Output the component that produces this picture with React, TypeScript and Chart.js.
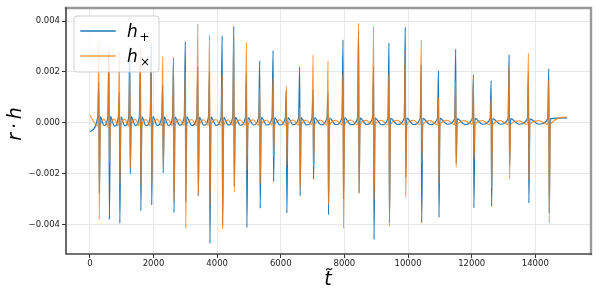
import React, { useEffect, useRef } from "react";
import { Chart, registerables } from "chart.js";

Chart.register(...registerables);

// burst (periastron) times
const burstT = [289, 606, 935, 1262, 1595, 1937, 2298, 2637, 3007, 3400, 3767, 4165, 4530, 4928, 5346, 5766, 6184, 6601, 7022, 7493, 7964, 8453, 8924, 9408, 9920, 10422, 10965, 11505, 12063, 12619, 13184, 13790, 14430];

// h_plus spike extremes
const plusHi = [0.0016, 0.0028, 0.0012, 0.003, 0.0026, 0.0031, 0.0015, 0.00255, 0.0032, 0.0022, 0.002, 0.00342, 0.00379, 0.00196, 0.00244, 0.00285, 0.0013, 0.00221, 0.0013, 0.00118, 0.00326, 0.0036, 0.0022, 0.00314, 0.00376, 0.00229, 0.00205, 0.0029, 0.0019, 0.00166, 0.00268, 0.00196, 0.00213];
const plusLo = [-0.00275, -0.00378, -0.00394, -0.002, -0.00345, -0.00322, -0.00196, -0.00352, -0.00309, -0.00286, -0.00472, -0.004, -0.0025, -0.0041, -0.00335, -0.0023, -0.00354, -0.00286, -0.00221, -0.0036, -0.003, -0.00275, -0.00458, -0.0039, -0.00213, -0.00392, -0.0037, -0.0016, -0.00333, -0.00327, -0.00163, -0.00314, -0.00355];

// h_cross spike extremes
const crossHi = [0.0032, 0.003, 0.0028, 0.002, 0.003, 0.0022, 0.0026, 0.0025, 0.002, 0.0039, 0.00345, 0.00183, 0.0034, 0.00316, 0.00137, 0.00176, 0.00145, 0.0006, 0.00267, 0.00244, 0.0019, 0.00391, 0.00379, 0.0019, 0.00288, 0.00327, 0.001, 0.00165, 0.00185, 0.0009, 0.00222, 0.00274, 0.0017];
const crossLo = [-0.00378, -0.00157, -0.0024, -0.00177, -0.00243, -0.0024, -0.00177, -0.00307, -0.00413, -0.00286, -0.00322, -0.00416, -0.00272, -0.00184, -0.00235, -0.00132, -0.00165, -0.00256, -0.00171, -0.00321, -0.00413, -0.00275, -0.00301, -0.00406, -0.0029, -0.00157, -0.00236, -0.00173, -0.00144, -0.00255, -0.0022, -0.00222, -0.00392];

// slow background near bursts and in the middle of each gap
const plusNear = [0.00025, 0.00026, 0.00024, 0.00025, 0.00024, 0.00025, 0.00024, 0.00023, 0.00024, 0.00022, 0.00023, 0.00022, 0.00022, 0.00021, 0.00022, 0.0002, 0.00021, 0.0002, 0.0002, 0.00019, 0.0002, 0.00019, 0.00019, 0.00018, 0.00019, 0.00018, 0.00018, 0.00017, 0.00018, 0.00017, 0.00017, 0.00016, 0.00016];
const plusMid = [-0.0001, -0.00012, -0.00011, -0.0001, -0.00011, -0.0001, -0.0001, -0.00009, -0.0001, -0.00009, -0.00009, -0.00008, -0.00009, -0.00008, -0.00008, -0.00008, -0.00007, -0.00008, -0.00007, -0.00007, -0.00007, -0.00006, -0.00007, -0.00006, -0.00006, -0.00006, -0.00005, -0.00006, -0.00005, -0.00005, -0.00005, -0.00005];
const crossNear = [-0.00012, -0.00013, -0.00012, -0.00012, -0.00011, -0.00012, -0.00011, -0.00011, -0.0001, -0.00011, -0.0001, -0.0001, -0.0001, -0.00009, -0.0001, -0.00009, -0.00009, -0.00009, -0.00008, -0.00009, -0.00008, -0.00008, -0.00008, -0.00007, -0.00008, -0.00007, -0.00007, -0.00007, -0.00006, -0.00007, -0.00006, -0.00006, -0.00006];
const crossMid = [0.00014, 0.00015, 0.00014, 0.00014, 0.00013, 0.00014, 0.00013, 0.00013, 0.00013, 0.00012, 0.00013, 0.00012, 0.00012, 0.00012, 0.00011, 0.00012, 0.00011, 0.00011, 0.00011, 0.0001, 0.00011, 0.0001, 0.0001, 0.0001, 0.0001, 0.00009, 0.0001, 0.00009, 0.00009, 0.00009, 0.00008, 0.00009];

const plusStart = -0.00034;
const plusEnd = 0.0002;
const crossStart = 0.0003;
const crossEnd = 0.00023;
const tEnd = 15000;

const xTicks = [0, 2000, 4000, 6000, 8000, 10000, 12000, 14000];
const yTicks = [-0.004, -0.002, 0, 0.002, 0.004];

const BLUE = "#1f77b4";
const ORANGE = "rgba(255,127,14,0.78)";

function buildSeries(hi: number[], lo: number[], near: number[], mid: number[], start: number, end: number) {
  const pts: { x: number; y: number }[] = [{ x: 0, y: start }];
  burstT.forEach((t, i) => {
    if (i > 0) pts.push({ x: (burstT[i - 1] + t) / 2, y: mid[i - 1] });
    pts.push({ x: t - 40, y: near[i] });
    pts.push({ x: t - 7, y: hi[i] });
    pts.push({ x: t + 7, y: lo[i] });
    pts.push({ x: t + 40, y: near[i] });
  });
  pts.push({ x: tEnd, y: end });
  return pts;
}

const overlay = {
  id: "overlay",
  afterDraw(chart: any) {
    const ctx = chart.ctx as CanvasRenderingContext2D;
    const a = chart.chartArea;
    ctx.save();
    // frame
    ctx.lineCap = "square";
    ctx.strokeStyle = "#999";
    ctx.lineWidth = 2.4;
    ctx.beginPath();
    ctx.moveTo(a.left, a.top);
    ctx.lineTo(a.right, a.top);
    ctx.lineTo(a.right, a.bottom);
    ctx.stroke();
    ctx.strokeStyle = "#444";
    ctx.lineWidth = 1.6;
    ctx.beginPath();
    ctx.moveTo(a.left, a.top);
    ctx.lineTo(a.left, a.bottom);
    ctx.lineTo(a.right, a.bottom);
    ctx.stroke();

    // legend
    const lx = 74, ly = 16, lw = 85, lh = 56, r = 3;
    ctx.beginPath();
    ctx.moveTo(lx + r, ly);
    ctx.lineTo(lx + lw - r, ly);
    ctx.quadraticCurveTo(lx + lw, ly, lx + lw, ly + r);
    ctx.lineTo(lx + lw, ly + lh - r);
    ctx.quadraticCurveTo(lx + lw, ly + lh, lx + lw - r, ly + lh);
    ctx.lineTo(lx + r, ly + lh);
    ctx.quadraticCurveTo(lx, ly + lh, lx, ly + lh - r);
    ctx.lineTo(lx, ly + r);
    ctx.quadraticCurveTo(lx, ly, lx + r, ly);
    ctx.closePath();
    ctx.fillStyle = "rgba(255,255,255,0.8)";
    ctx.fill();
    ctx.strokeStyle = "rgba(204,204,204,0.9)";
    ctx.lineWidth = 1;
    ctx.stroke();

    ctx.lineWidth = 1.4;
    ctx.strokeStyle = BLUE;
    ctx.beginPath();
    ctx.moveTo(81, 31);
    ctx.lineTo(115, 31);
    ctx.stroke();
    ctx.strokeStyle = ORANGE;
    ctx.beginPath();
    ctx.moveTo(81, 56);
    ctx.lineTo(115, 56);
    ctx.stroke();

    ctx.fillStyle = "#000";
    ctx.textAlign = "left";
    ctx.textBaseline = "alphabetic";
    ctx.font = "italic 17px 'DejaVu Sans'";
    ctx.fillText("h", 127, 37);
    ctx.fillText("h", 127, 62);
    ctx.font = "12px 'DejaVu Sans'";
    ctx.fillText("+", 139.5, 40.5);
    ctx.fillText("×", 140, 65.5);

    // axis titles
    ctx.font = "italic 19px 'DejaVu Sans'";
    ctx.textAlign = "center";
    ctx.fillText("t\u0303", 328, 285);
    ctx.translate(21, 124);
    ctx.rotate(-Math.PI / 2);
    ctx.fillText("r\u2009\u00b7\u2009h", 0, 0);
    ctx.restore();
  },
};

export default function App() {
  const ref = useRef<HTMLCanvasElement | null>(null);
  useEffect(() => {
    if (!ref.current) return;
    const tickFont = { family: "'DejaVu Sans'", size: 8.5 };
    const chart = new Chart(ref.current, {
      type: "line",
      data: {
        datasets: [
          {
            label: "h+",
            data: buildSeries(plusHi, plusLo, plusNear, plusMid, plusStart, plusEnd),
            borderColor: BLUE,
            borderWidth: 1.2,
            pointRadius: 0,
            cubicInterpolationMode: "monotone",
            order: 2,
          },
          {
            label: "hx",
            data: buildSeries(crossHi, crossLo, crossNear, crossMid, crossStart, crossEnd),
            borderColor: ORANGE,
            borderWidth: 1.2,
            pointRadius: 0,
            cubicInterpolationMode: "monotone",
            order: 1,
          },
        ],
      },
      options: {
        animation: false,
        responsive: false,
        maintainAspectRatio: false,
        parsing: false as any,
        normalized: true,
        layout: { padding: { top: 8, right: 9, left: 0, bottom: 0 } },
        plugins: { legend: { display: false }, tooltip: { enabled: false } },
        scales: {
          x: {
            type: "linear",
            min: -750,
            max: 15750,
            afterBuildTicks: (s: any) => {
              s.ticks = xTicks.map((v) => ({ value: v }));
            },
            afterFit: (s: any) => {
              s.height = 46;
            },
            ticks: {
              font: tickFont,
              color: "#222",
              padding: 1,
              maxRotation: 0,
              autoSkip: false,
              callback: (v: any) => String(v),
            },
            grid: { color: "#e8e8e8", lineWidth: 1, tickColor: "#333", tickLength: 4 },
            border: { display: false },
          },
          y: {
            type: "linear",
            min: -0.00514,
            max: 0.00451,
            afterBuildTicks: (s: any) => {
              s.ticks = yTicks.map((v) => ({ value: v }));
            },
            afterFit: (s: any) => {
              s.width = 66;
            },
            ticks: {
              font: tickFont,
              color: "#222",
              padding: 2,
              autoSkip: false,
              callback: (v: any) => {
                const n = Number(v);
                return (n < -1e-12 ? "\u2212" : "") + Math.abs(n).toFixed(3);
              },
            },
            grid: { color: "#e8e8e8", lineWidth: 1, tickColor: "#333", tickLength: 4 },
            border: { display: false },
          },
        },
      },
      plugins: [overlay],
    });
    return () => chart.destroy();
  }, []);
  return (
    <div style={{ position: "fixed", left: 0, top: 0, width: 600, height: 300, background: "#fff" }}>
      <canvas ref={ref} width={600} height={300} style={{ display: "block", width: 600, height: 300 }} />
    </div>
  );
}
